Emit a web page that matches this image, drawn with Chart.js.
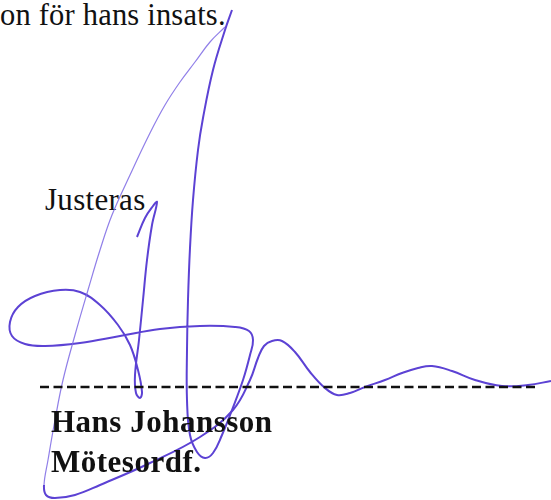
<!DOCTYPE html>
<html>
<head>
<meta charset="utf-8">
<script src="https://cdn.jsdelivr.net/npm/chart.js@4"></script>
<style>
  html, body { margin: 0; padding: 0; background: #fff; }
  #wrap { position: relative; width: 551px; height: 500px; overflow: hidden; }
  #sig { position: absolute; left: 0; top: 0; }
  .txt { position: absolute; white-space: nowrap; font-family: "Liberation Serif", "DejaVu Serif", serif; color: #111; line-height: 1; }
</style>
</head>
<body>
<div id="wrap">
  <div class="txt" style="left:0px; top:0px; font-size:30.5px; letter-spacing:0.2px;">on för hans insats.</div>
  <div class="txt" style="left:45px; top:184px; font-size:31px; letter-spacing:0.3px;">Justeras</div>
  <canvas id="sig" width="551" height="500"></canvas>
  <div class="txt" style="left:51px; top:406px; font-size:31px; font-weight:bold; letter-spacing:0.5px;">Hans Johansson</div>
  <div class="txt" style="left:51px; top:446px; font-size:31px; font-weight:bold; letter-spacing:0.5px;">Mötesordf.</div>
</div>
<script>
// signature stroke (page coords, y downwards)
const loopX = [232, 225, 213, 203, 198, 193, 190, 188, 187, 187, 190, 197, 205, 213, 222, 232, 243, 250, 253, 249, 235, 200, 160, 120, 80, 45, 25, 12, 10, 18, 35, 60, 80, 100, 118, 130, 138, 142, 140, 136, 135, 139, 143, 147, 152, 157, 153, 145, 137];
const loopY = [10, 30, 70, 118, 150, 200, 248, 300, 350, 400, 435, 452, 458, 453, 435, 410, 380, 355, 340, 331, 327, 326, 329, 336, 343, 346, 344, 336, 322, 307, 296, 290, 292, 305, 325, 345, 370, 392, 398, 393, 375, 340, 300, 260, 225, 202, 206, 218, 237];

const tailX = [225, 210, 195, 180, 165, 150, 130, 112, 100, 88, 75, 63, 55, 48, 44, 46, 55, 75, 100, 150, 200, 233, 250, 258, 264, 272, 282, 295, 310, 325, 337, 350, 365, 385, 402, 418, 432, 452, 475, 502, 528, 551];
const tailY = [27, 42, 62, 82, 105, 133, 175, 215, 250, 290, 335, 380, 420, 460, 485, 495, 498, 495, 485, 463, 437, 410, 380, 358, 346, 341, 341, 352, 372, 388, 395, 393, 387, 380, 373, 368, 366, 371, 380, 386, 385, 381];
const thinSegments = 14;

const ruleX = [40, 538];
const ruleY = [387, 387];

function pts(xs, ys) {
  return xs.map((x, i) => ({ x: x, y: ys[i] }));
}

const ink = 'rgb(92, 66, 212)';
const inkLight = 'rgba(125, 105, 228, 0.85)';

new Chart(document.getElementById('sig').getContext('2d'), {
  type: 'scatter',
  data: {
    datasets: [
      {
        data: pts(ruleX, ruleY),
        showLine: true,
        borderColor: '#111',
        borderWidth: 2.5,
        borderDash: [9, 4.5],
        pointRadius: 0
      },
      {
        data: pts(tailX, tailY),
        showLine: true,
        borderColor: ink,
        borderWidth: 2,
        pointRadius: 0,
        tension: 0.4,
        segment: {
          borderColor: ctx => ctx.p0DataIndex < thinSegments ? inkLight : ink,
          borderWidth: ctx => ctx.p0DataIndex < thinSegments ? 1.2 : 2
        }
      },
      {
        data: pts(loopX, loopY),
        showLine: true,
        borderColor: ink,
        borderWidth: 2,
        pointRadius: 0,
        tension: 0.4
      }
    ]
  },
  options: {
    responsive: false,
    animation: false,
    layout: { padding: 0 },
    plugins: { legend: { display: false }, tooltip: { enabled: false } },
    scales: {
      x: { type: 'linear', min: 0, max: 551, display: false },
      y: { type: 'linear', min: 0, max: 500, reverse: true, display: false }
    }
  }
});
</script>
</body>
</html>
